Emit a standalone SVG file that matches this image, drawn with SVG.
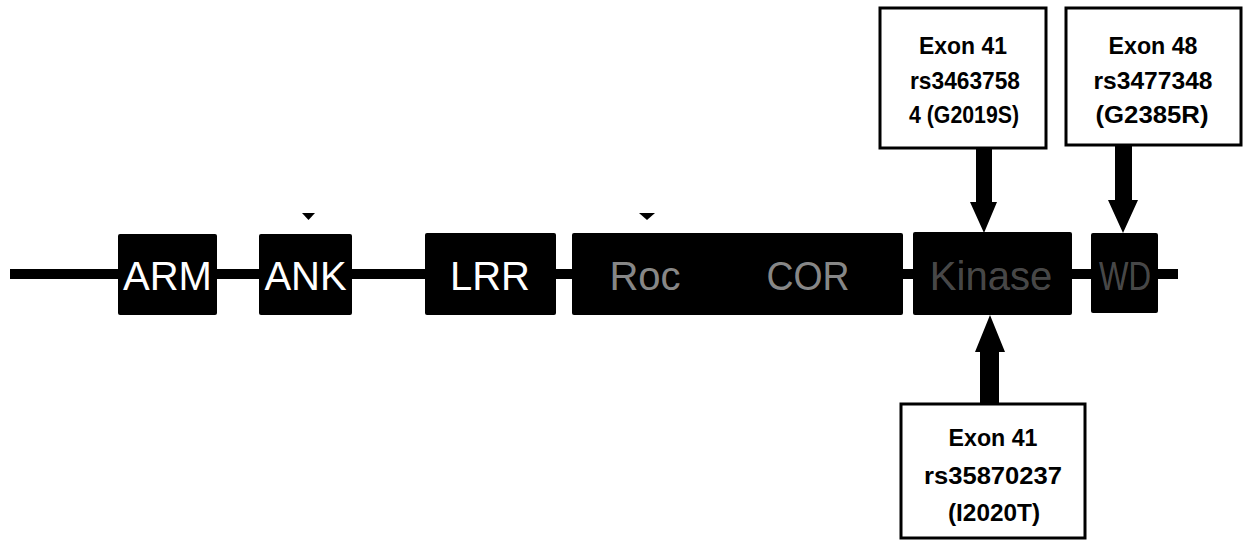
<svg xmlns="http://www.w3.org/2000/svg" width="1244" height="541" viewBox="0 0 1244 541">
  <style>
    .domain rect { fill: #000; }
    .domain text { font-family: "Liberation Sans", Arial, sans-serif; font-size: 40px; fill: #fff; text-anchor: middle; }
    .domain text.faint { fill-opacity: 0.55; }
    .domain text.ghost { fill-opacity: 0.3; }
    .label rect { fill: #fff; stroke: #000; stroke-width: 3; }
    .label text { font-family: "Liberation Sans", Arial, sans-serif; font-weight: bold; font-size: 24px; fill: #000; text-anchor: middle; }
    .marker { fill: #000; }
  </style>
  <rect width="1244" height="541" fill="#fff"/>

  <!-- protein backbone -->
  <g id="backbone">
    <rect x="10" y="269" width="1168" height="10" fill="#000"/>
  </g>

  <!-- domains -->
  <g id="arm" class="domain">
    <rect x="118" y="234" width="99" height="81" rx="2"/>
    <text x="167.5" y="290">ARM</text>
  </g>
  <g id="ank" class="domain">
    <rect x="259" y="234" width="93" height="81" rx="2"/>
    <text x="305.5" y="290">ANK</text>
  </g>
  <g id="lrr" class="domain">
    <rect x="425" y="233" width="131" height="82" rx="2"/>
    <text x="490" y="290">LRR</text>
  </g>
  <g id="roc-cor" class="domain">
    <rect x="572" y="233" width="331" height="82" rx="2"/>
    <text class="faint" x="645" y="290">Roc</text>
    <text class="faint" x="808" y="290" textLength="83" lengthAdjust="spacingAndGlyphs">COR</text>
  </g>
  <g id="kinase" class="domain">
    <rect x="913" y="232" width="159" height="83" rx="2"/>
    <text class="ghost" x="991" y="290">Kinase</text>
  </g>
  <g id="wd" class="domain">
    <rect x="1091" y="233" width="67" height="80" rx="2"/>
    <text class="ghost" x="1125" y="290" textLength="52" lengthAdjust="spacingAndGlyphs">WD</text>
  </g>

  <!-- small position markers above ANK and Roc -->
  <g id="tick-marks">
    <polygon class="marker" points="302,213 315,213 308.5,220"/>
    <polygon class="marker" points="639,213 655,213 647,220"/>
  </g>

  <!-- variant labels -->
  <g id="label-g2019s" class="label">
    <rect x="880" y="8" width="166" height="140"/>
    <text x="963" y="54" textLength="88" lengthAdjust="spacingAndGlyphs">Exon 41</text>
    <text x="965" y="89" textLength="110" lengthAdjust="spacingAndGlyphs">rs3463758</text>
    <text x="964" y="123" textLength="110" lengthAdjust="spacingAndGlyphs">4 (G2019S)</text>
  </g>
  <g id="label-g2385r" class="label">
    <rect x="1066" y="8" width="175" height="137"/>
    <text x="1153" y="54" textLength="89" lengthAdjust="spacingAndGlyphs">Exon 48</text>
    <text x="1153" y="89" textLength="119" lengthAdjust="spacingAndGlyphs">rs3477348</text>
    <text x="1152" y="123" textLength="113" lengthAdjust="spacingAndGlyphs">(G2385R)</text>
  </g>
  <g id="label-i2020t" class="label">
    <rect x="901" y="404" width="184" height="134"/>
    <text x="993" y="446" textLength="89" lengthAdjust="spacingAndGlyphs">Exon 41</text>
    <text x="993" y="484" textLength="138" lengthAdjust="spacingAndGlyphs">rs35870237</text>
    <text x="994" y="521" textLength="92" lengthAdjust="spacingAndGlyphs">(I2020T)</text>
  </g>

  <!-- arrows from labels to domains -->
  <g id="connectors" fill="#000">
    <polygon points="976,149 992,149 992,202 997,202 984,233 970,202 976,202"/>
    <polygon points="1115,146 1132,146 1132,200 1138,200 1123,233 1108,200 1115,200"/>
    <polygon points="980,403 999,403 999,352 1005,352 990,315 975,352 980,352"/>
  </g>
</svg>
